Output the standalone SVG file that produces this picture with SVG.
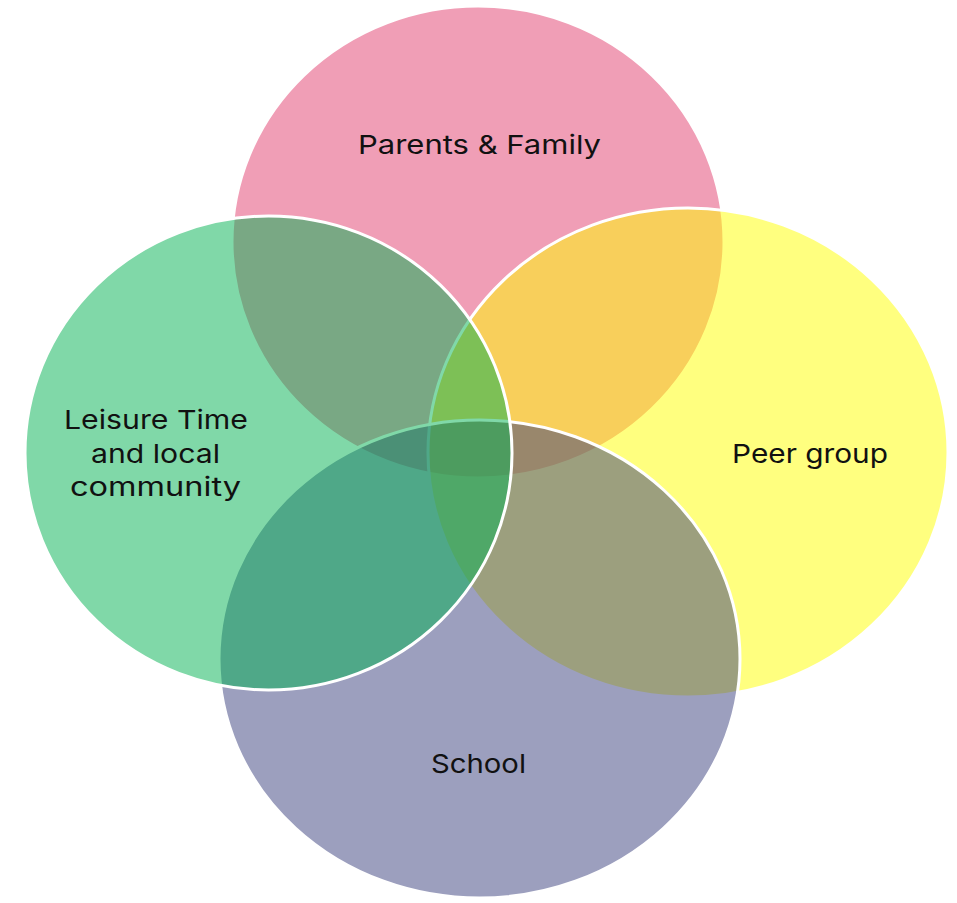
<svg xmlns="http://www.w3.org/2000/svg" width="957" height="903" viewBox="0 0 957 903">
  <style>
    .set { fill-opacity: 0.5; stroke: #ffffff; stroke-width: 3; }
    .label { font-family: "Inter", "Liberation Sans", sans-serif; font-size: 26px; font-weight: 400; fill: #111111; text-anchor: middle; }
  </style>
  <rect width="957" height="903" fill="#ffffff"/>

  <!-- Four overlapping sets, drawn back to front -->
  <g id="parents-family">
    <ellipse class="set" cx="478" cy="242" rx="246" ry="236" fill="#E13D6D"/>
  </g>
  <g id="peer-group">
    <ellipse class="set" cx="688" cy="452.5" rx="260" ry="244.5" fill="#FFFF00"/>
  </g>
  <g id="school">
    <ellipse class="set" cx="479.5" cy="659" rx="260.5" ry="239" fill="#393F7D"/>
  </g>
  <g id="leisure-community">
    <ellipse class="set" cx="268.5" cy="453" rx="243.5" ry="237" fill="#01B151"/>
  </g>

  <!-- Set labels -->
  <g id="labels">
    <text class="label" x="479.5" y="154" textLength="243" lengthAdjust="spacingAndGlyphs">Parents &amp; Family</text>
    <text class="label" x="810" y="463" textLength="156" lengthAdjust="spacingAndGlyphs">Peer group</text>
    <text class="label" x="478.5" y="773" textLength="95" lengthAdjust="spacingAndGlyphs">School</text>
    <text class="label" x="156" y="429" textLength="184" lengthAdjust="spacingAndGlyphs">Leisure Time</text>
    <text class="label" x="155.5" y="463" textLength="129" lengthAdjust="spacingAndGlyphs">and local</text>
    <text class="label" x="155.5" y="496" textLength="171" lengthAdjust="spacingAndGlyphs">community</text>
  </g>
</svg>
